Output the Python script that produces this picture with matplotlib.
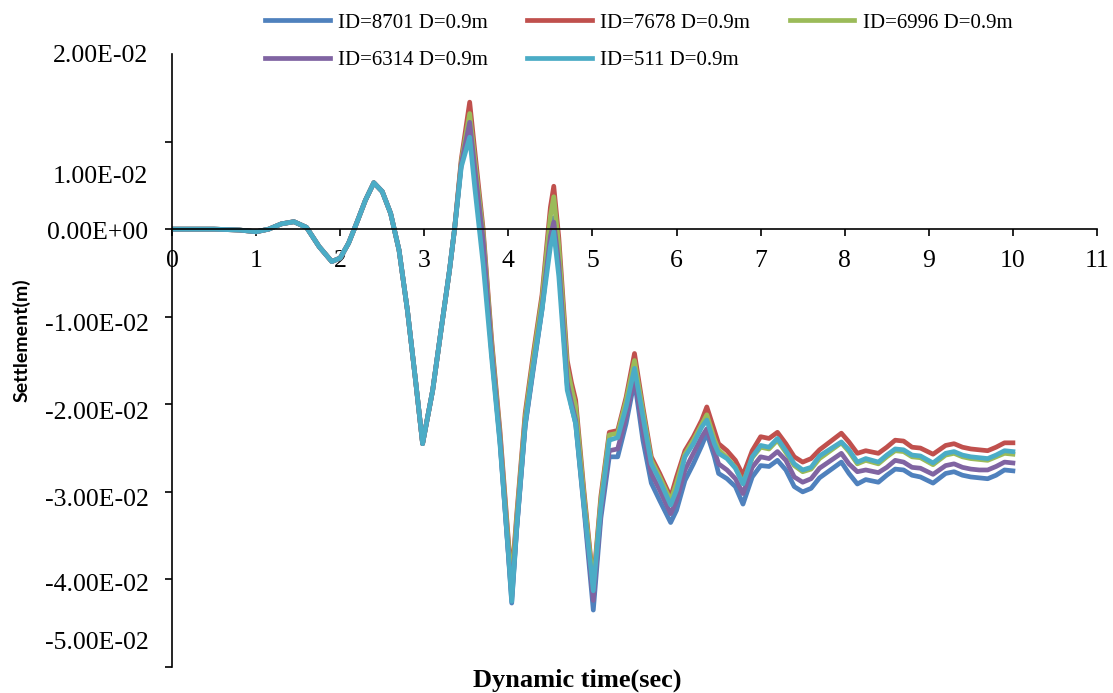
import numpy as np
import matplotlib; matplotlib.use("Agg")
import matplotlib.pyplot as plt

# time (s) and settlement (mm)
t = [0, 0.5, 0.8, 1.0, 1.15, 1.3, 1.45, 1.6, 1.75, 1.9, 2.0, 2.1, 2.2, 2.3, 2.4, 2.5, 2.6, 2.7,
     2.8, 2.9, 2.98, 3.1, 3.2, 3.3, 3.36,
     3.44, 3.54, 3.6, 3.7, 3.8, 3.9, 4.0, 4.04, 4.1, 4.2, 4.3, 4.4, 4.5, 4.54, 4.6, 4.7, 4.75,
     4.8, 4.9, 5.01, 5.1, 5.2, 5.3, 5.4, 5.5, 5.6, 5.7, 5.8, 5.93, 6.0, 6.1, 6.2, 6.3, 6.36,
     6.45, 6.5, 6.6, 6.7, 6.79, 6.9, 7.0, 7.1, 7.2, 7.3, 7.4, 7.5, 7.6, 7.7, 7.96, 8.05, 8.15,
     8.25, 8.4, 8.5, 8.6, 8.7, 8.8, 8.9, 9.05, 9.2, 9.3, 9.4, 9.5, 9.6, 9.7, 9.8, 9.9, 10.0]

# first part identical for all five points
common = [0, 0, -0.1, -0.3, 0, 0.6, 0.85, 0.2, -2.0, -3.7, -3.3, -1.6, 0.8, 3.3, 5.3, 4.3, 1.8, -2.4,
          -9.3, -17.6, -24.5, -18.4, -11.5, -4.7, 0.0]

id8701 = common + [7.5, 11.6, 6.5, -1.5, -14.0, -24.2, -37.2, -42.7, -34.2, -22.5, -15.8, -9.2, -0.5, 1.3,
                   -3.8, -17.8, -20.2, -22.2, -32.0, -43.5, -33.0, -26.0, -26.0, -22.2, -17.3, -24.1,
                   -29.0, -31.0, -33.5, -32.1, -28.7, -26.8, -24.7, -23.3, -26.0, -27.9, -28.5, -29.4,
                   -31.4, -28.3, -27.0, -27.1, -26.4, -27.5, -29.4, -30.0, -29.6, -28.4, -26.6, -27.9,
                   -29.1, -28.6, -28.9, -28.1, -27.4, -27.5, -28.1, -28.3, -29.0, -27.9, -27.7, -28.1,
                   -28.3, -28.4, -28.5, -28.1, -27.5, -27.6]
id7678 = common + [8.0, 14.5, 9.0, 0.0, -12.5, -23.0, -35.5, -40.0, -32.5, -21.0, -14.0, -7.5, 2.5, 4.9,
                   -1.0, -15.0, -17.5, -19.5, -30.0, -40.5, -30.5, -23.2, -23.0, -19.2, -14.2, -20.3,
                   -26.0, -27.9, -30.6, -28.3, -25.3, -23.7, -21.8, -20.3, -23.0, -24.5, -25.3, -26.4,
                   -28.1, -25.3, -23.7, -23.9, -23.2, -24.5, -26.0, -26.6, -26.2, -25.2, -23.3, -24.3,
                   -25.6, -25.3, -25.6, -24.9, -24.1, -24.2, -24.9, -25.0, -25.7, -24.7, -24.5, -24.9,
                   -25.1, -25.2, -25.3, -24.9, -24.4, -24.4]
id6996 = common + [7.7, 13.2, 8.0, -0.5, -13.0, -23.5, -36.0, -40.5, -33.0, -21.5, -14.5, -8.0, 1.5, 3.7,
                   -2.0, -15.8, -18.2, -20.2, -30.5, -40.8, -31.0, -23.5, -23.3, -19.6, -15.0, -20.8,
                   -26.4, -28.3, -31.0, -29.0, -25.7, -24.1, -22.3, -21.2, -24.0, -25.2, -26.1, -27.2,
                   -29.0, -26.1, -24.9, -25.1, -24.1, -25.5, -27.0, -27.7, -27.4, -26.2, -24.4, -25.4,
                   -26.8, -26.4, -26.8, -26.0, -25.3, -25.4, -26.0, -26.1, -26.9, -25.8, -25.6, -26.0,
                   -26.2, -26.3, -26.4, -26.0, -25.6, -25.7]
id6314 = common + [7.4, 12.2, 7.0, -1.3, -13.8, -24.0, -37.0, -42.0, -34.0, -22.3, -15.5, -9.0, -0.8, 0.8,
                   -4.0, -17.5, -19.8, -21.8, -31.5, -42.4, -32.3, -25.3, -25.1, -21.4, -16.9, -23.0,
                   -27.9, -29.8, -32.5, -31.0, -27.5, -25.6, -23.7, -22.8, -25.3, -26.8, -27.5, -28.5,
                   -30.2, -27.2, -26.0, -26.2, -25.4, -26.4, -28.3, -28.9, -28.5, -27.3, -25.6, -26.8,
                   -27.7, -27.5, -27.8, -27.2, -26.4, -26.6, -27.2, -27.3, -28.0, -27.0, -26.8, -27.2,
                   -27.4, -27.5, -27.5, -27.1, -26.6, -26.7]
id511 = common + [7.1, 10.5, 4.8, -4.0, -14.6, -24.5, -37.0, -42.5, -34.0, -22.3, -15.5, -9.2, -2.0, -0.3,
                  -5.4, -18.4, -20.3, -22.2, -31.7, -41.3, -31.7, -24.1, -23.8, -20.3, -15.9, -21.4,
                  -26.8, -28.7, -31.5, -29.8, -26.0, -24.5, -22.6, -21.8, -24.5, -25.6, -26.2, -27.3,
                  -29.1, -26.0, -24.7, -24.9, -23.9, -25.3, -26.8, -27.5, -27.2, -25.9, -24.3, -25.2,
                  -26.6, -26.2, -26.6, -25.8, -25.1, -25.2, -25.8, -25.9, -26.7, -25.6, -25.4, -25.8,
                  -26.0, -26.1, -26.2, -25.8, -25.3, -25.4]

series = [("ID=8701 D=0.9m", id8701, "#4F81BD"),
          ("ID=7678 D=0.9m", id7678, "#C0504D"),
          ("ID=6996 D=0.9m", id6996, "#9BBB59"),
          ("ID=6314 D=0.9m", id6314, "#8064A2"),
          ("ID=511 D=0.9m", id511, "#4BACC6")]

ytick_vals = [0.02, 0.01, 0.0, -0.01, -0.02, -0.03, -0.04, -0.05]
ytick_text = ["2.00E-02", "1.00E-02", "0.00E+00", "-1.00E-02", "-2.00E-02",
              "-3.00E-02", "-4.00E-02", "-5.00E-02"]
# labels sit slightly off their ticks in the original
ylabel_pos = [0.0200, 0.0062, -0.0002, -0.0107, -0.0207, -0.0306, -0.0403, -0.0470]

plt.rcParams["font.family"] = "Liberation Serif"

fig = plt.figure(figsize=(11.13, 6.93), dpi=100)
ax = fig.add_axes([172/1113, 1-667/693, 925/1113, 613/693])

lines = {}
for name, vals, col in series:
    lines[name], = ax.plot(t, np.array(vals)/1000.0, color=col, lw=3.4, label=name,
                           solid_joinstyle="round")

ax.set_xlim(0, 11); ax.set_ylim(-0.05, 0.02)
ax.spines["top"].set_visible(False); ax.spines["right"].set_visible(False)
ax.spines["bottom"].set_position(("data", 0))
for s in ("left", "bottom"):
    ax.spines[s].set_linewidth(1.2)

ax.set_xticks(range(12))
ax.tick_params(axis="x", direction="out", length=5, width=1.2, labelsize=18.5, pad=10)
ax.set_yticks(ylabel_pos)
ax.set_yticklabels(ytick_text)
ax.set_yticks(ytick_vals, minor=True)
ax.tick_params(axis="y", which="major", length=0, labelsize=18.5, pad=17)
ax.tick_params(axis="y", which="minor", direction="out", length=5, width=1.2)

fig.text(577/1113, 1-680/693, "Dynamic time(sec)", ha="center", va="center",
         fontsize=19, fontweight="bold")
fig.text(22/1113, 1-340/693, "Settlement(m)", ha="center", va="center", rotation=90,
         fontsize=14, fontweight="bold", family="Lato")

order = ["ID=8701 D=0.9m", "ID=6314 D=0.9m", "ID=7678 D=0.9m", "ID=511 D=0.9m", "ID=6996 D=0.9m"]
fig.legend([lines[k] for k in order], order, loc="upper left", ncol=3,
           bbox_to_anchor=(265/1113, 1-13/693), frameon=False, fontsize=15,
           handlelength=3.1, handletextpad=0.4, columnspacing=1.9, labelspacing=0.85,
           borderpad=0, borderaxespad=0)

fig.savefig("out.png", dpi=100)
